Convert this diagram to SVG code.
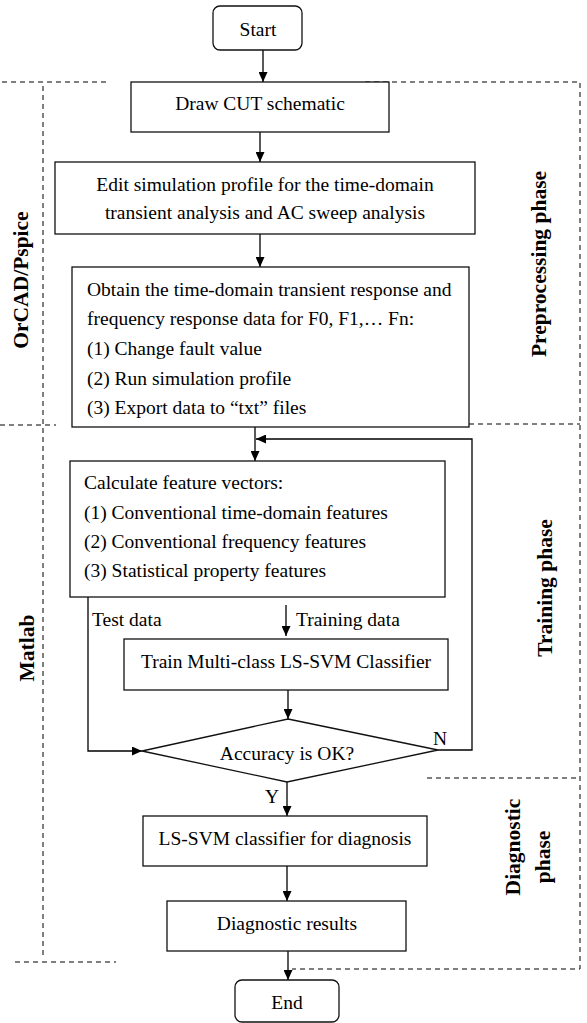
<svg xmlns="http://www.w3.org/2000/svg" width="587" height="1023" viewBox="0 0 587 1023">
  <style>
    .box { fill: #fff; stroke: #111; stroke-width: 1.3; }
    .t { font-family: "Liberation Serif", "Times New Roman", serif; font-size: 19.5px; fill: #000; }
    .c { text-anchor: middle; }
    .lbl { font-family: "Liberation Serif", "Times New Roman", serif; font-size: 21.5px; font-weight: bold; fill: #000; text-anchor: middle; }
    .wire { fill: none; stroke: #000; stroke-width: 1.3; }
    .zone { fill: none; stroke: #000; stroke-width: 1; stroke-dasharray: 5 4; }
  </style>
  <defs>
    <marker id="arrow" markerUnits="userSpaceOnUse" markerWidth="10" markerHeight="9" refX="10" refY="4.5" orient="auto">
      <path d="M0,0 L10,4.5 L0,9 z" fill="#000"/>
    </marker>
  </defs>

  <!-- phase / tool zones -->
  <g id="zones">
    <path class="zone" d="M2,82 H108"/>
    <path class="zone" d="M43,86 V958"/>
    <path class="zone" d="M0,425 H56"/>
    <path class="zone" d="M15,962 H116"/>
    <path class="zone" d="M365,82 H580 V969 H292"/>
    <path class="zone" d="M361,424 H580"/>
    <path class="zone" d="M427,778 H580"/>
  </g>

  <!-- zone labels -->
  <g id="zone-labels">
    <text class="lbl" transform="translate(28 280) rotate(-90)">OrCAD/Pspice</text>
    <text class="lbl" transform="translate(34 648) rotate(-90)">Matlab</text>
    <text class="lbl" transform="translate(546 264) rotate(-90)">Preprocessing phase</text>
    <text class="lbl" transform="translate(552 588) rotate(-90)">Training phase</text>
    <text class="lbl" transform="translate(520 847) rotate(-90)">Diagnostic</text>
    <text class="lbl" transform="translate(550 857) rotate(-90)">phase</text>
  </g>

  <!-- connectors -->
  <g id="connectors">
    <path class="wire" d="M263,50 V82" marker-end="url(#arrow)"/>
    <path class="wire" d="M260,132 V162" marker-end="url(#arrow)"/>
    <path class="wire" d="M260,234 V267" marker-end="url(#arrow)"/>
    <path class="wire" d="M255,427 V461" marker-end="url(#arrow)"/>
    <path class="wire" d="M438,750 H472 V439 H256" marker-end="url(#arrow)"/>
    <path class="wire" d="M88,597 V751 H142" marker-end="url(#arrow)"/>
    <path class="wire" d="M286,605 V636" marker-end="url(#arrow)"/>
    <path class="wire" d="M288,690 V719" marker-end="url(#arrow)"/>
    <path class="wire" d="M287,782 V816" marker-end="url(#arrow)"/>
    <path class="wire" d="M287,866 V901" marker-end="url(#arrow)"/>
    <path class="wire" d="M288,951 V980" marker-end="url(#arrow)"/>
    <text class="t" x="92" y="626">Test data</text>
    <text class="t" x="296" y="626">Training data</text>
    <text class="t c" x="440" y="745">N</text>
    <text class="t c" x="272" y="803">Y</text>
  </g>

  <g id="start">
    <rect class="box" x="213" y="6" width="89" height="44" rx="7"/>
    <text class="t c" x="258" y="36">Start</text>
  </g>

  <g id="draw-cut">
    <rect class="box" x="131" y="82" width="258" height="50"/>
    <text class="t c" x="260" y="110">Draw CUT schematic</text>
  </g>

  <g id="edit-profile">
    <rect class="box" x="55" y="162" width="420" height="72"/>
    <text class="t c" x="265" y="191">Edit simulation profile for the time-domain</text>
    <text class="t c" x="265" y="219">transient analysis and AC sweep analysis</text>
  </g>

  <g id="obtain-data">
    <rect class="box" x="72" y="267" width="397" height="160"/>
    <text class="t" x="87" y="296">Obtain the time-domain transient response and</text>
    <text class="t" x="87" y="325">frequency response data for F0, F1,… Fn:</text>
    <text class="t" x="87" y="355">(1) Change fault value</text>
    <text class="t" x="87" y="385">(2) Run simulation profile</text>
    <text class="t" x="87" y="414">(3) Export data to “txt” files</text>
  </g>

  <g id="features">
    <rect class="box" x="70" y="461" width="375" height="136"/>
    <text class="t" x="84" y="489">Calculate feature vectors:</text>
    <text class="t" x="84" y="519">(1) Conventional time-domain features</text>
    <text class="t" x="84" y="548">(2) Conventional frequency features</text>
    <text class="t" x="84" y="577">(3) Statistical property features</text>
  </g>

  <g id="train">
    <rect class="box" x="124" y="639" width="324" height="51"/>
    <text class="t c" x="286" y="668">Train Multi-class LS-SVM Classifier</text>
  </g>

  <g id="accuracy-check">
    <polygon class="box" points="288,719 438,750 287,782 142,751"/>
    <text class="t c" x="287" y="760">Accuracy is OK?</text>
  </g>

  <g id="diagnose">
    <rect class="box" x="143" y="816" width="284" height="50"/>
    <text class="t c" x="285" y="845">LS-SVM classifier for diagnosis</text>
  </g>

  <g id="results">
    <rect class="box" x="167" y="901" width="239" height="50"/>
    <text class="t c" x="287" y="930">Diagnostic results</text>
  </g>

  <g id="end">
    <rect class="box" x="235" y="980" width="104" height="42" rx="7"/>
    <text class="t c" x="287" y="1009">End</text>
  </g>
</svg>
